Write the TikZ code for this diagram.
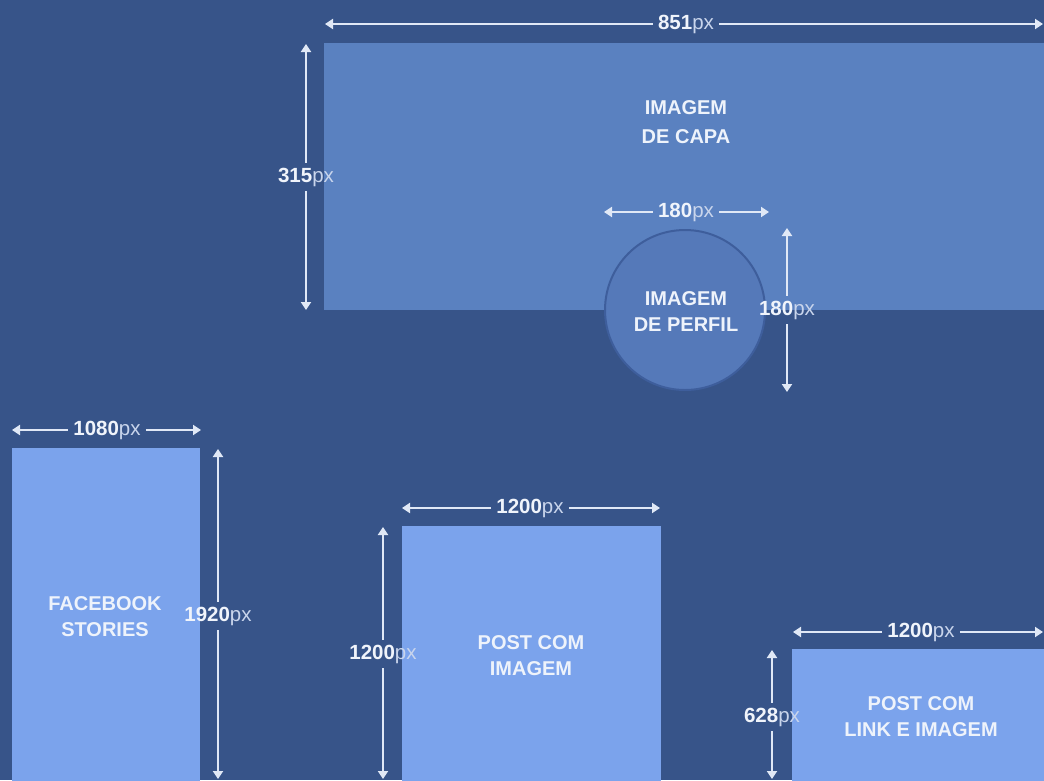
\documentclass[tikz,border=0pt]{standalone}
\usepackage{fontspec}
\setmainfont{Liberation Sans}
\usetikzlibrary{arrows.meta}
\definecolor{bg}{HTML}{375489}
\definecolor{cover}{HTML}{5A81C0}
\definecolor{prof}{HTML}{5579B9}
\definecolor{profline}{HTML}{3E5E9C}
\definecolor{lightbox}{HTML}{7BA3EC}
\definecolor{dimline}{HTML}{E0E8F6}
\definecolor{numc}{HTML}{F0F4FB}
\definecolor{pxc}{HTML}{C9D5EC}
\definecolor{boxtxt}{HTML}{EEF3FB}
\newcommand{\dimtext}[1]{{\bfseries\color{numc}#1}{\color{pxc}px}}
\begin{document}
\begin{tikzpicture}[x=1pt,y=-1pt,
  areabox/.style={rectangle, draw=none, inner sep=0pt, anchor=north west},
  boxlabel/.style={text=boxtxt, font=\bfseries\fontsize{20}{26}\selectfont, align=center},
  dimlabel/.style={inner sep=5pt, font=\fontsize{20.5}{24}\selectfont},
  dimarrow/.style={draw=dimline, line width=2pt, -{Triangle[width=10pt,length=8pt]}}]
\path[use as bounding box] (0,0) rectangle (1044,780);
\clip (0,0) rectangle (1044,780);
\fill[bg] (0,0) rectangle (1044,780);

% cover
\node[areabox, fill=cover, minimum width=740pt, minimum height=267pt] (cover) at (324,43) {};
\node[boxlabel, font=\bfseries\fontsize{20}{29}\selectfont] (covertxt) at (686,122) {IMAGEM\\DE CAPA};
% profile
\node[circle, fill=prof, draw=profline, line width=2pt, minimum size=160pt, inner sep=0pt] (perfil) at (685,310) {};
\node[boxlabel] (perfiltxt) at (686,312) {IMAGEM\\DE PERFIL};
% stories
\node[areabox, fill=lightbox, minimum width=188pt, minimum height=360pt] (stories) at (12,448) {};
\node[boxlabel] (storiestxt) at (105,617) {FACEBOOK\\STORIES};
% post imagem
\node[areabox, fill=lightbox, minimum width=259pt, minimum height=280pt] (postimg) at (402,526) {};
\node[boxlabel] (postimgtxt) at (531,656) {POST COM\\IMAGEM};
% post link
\node[areabox, fill=lightbox, minimum width=270pt, minimum height=150pt] (postlink) at (792,649) {};
\node[boxlabel] (postlinktxt) at (921,717) {POST COM\\LINK E IMAGEM};

% dimension 851
\coordinate (c851a) at (325,24);
\coordinate (c851b) at (1043,24);
\node[dimlabel] (l851) at (686,24) {\dimtext{851}};
\draw[dimarrow] (l851) -- (c851a);
\draw[dimarrow] (l851) -- (c851b);
% dimension 315
\coordinate (c315a) at (306,44);
\coordinate (c315b) at (306,310);
\node[dimlabel] (l315) at (306,177) {\dimtext{315}};
\draw[dimarrow] (l315) -- (c315a);
\draw[dimarrow] (l315) -- (c315b);
% dimension 180 horizontal
\coordinate (c180ha) at (604,212);
\coordinate (c180hb) at (769,212);
\node[dimlabel] (l180h) at (686,212) {\dimtext{180}};
\draw[dimarrow] (l180h) -- (c180ha);
\draw[dimarrow] (l180h) -- (c180hb);
% dimension 180 vertical
\coordinate (c180va) at (787,228);
\coordinate (c180vb) at (787,392);
\node[dimlabel] (l180v) at (787,310) {\dimtext{180}};
\draw[dimarrow] (l180v) -- (c180va);
\draw[dimarrow] (l180v) -- (c180vb);
% dimension 1080
\coordinate (c1080a) at (12,430);
\coordinate (c1080b) at (201,430);
\node[dimlabel] (l1080) at (107,430) {\dimtext{1080}};
\draw[dimarrow] (l1080) -- (c1080a);
\draw[dimarrow] (l1080) -- (c1080b);
% dimension 1920
\coordinate (c1920a) at (218,449);
\coordinate (c1920b) at (218,779);
\node[dimlabel] (l1920) at (218,616) {\dimtext{1920}};
\draw[dimarrow] (l1920) -- (c1920a);
\draw[dimarrow] (l1920) -- (c1920b);
% dimension 1200 (post imagem, horizontal)
\coordinate (c1200ha) at (402,508);
\coordinate (c1200hb) at (660,508);
\node[dimlabel] (l1200h) at (530,508) {\dimtext{1200}};
\draw[dimarrow] (l1200h) -- (c1200ha);
\draw[dimarrow] (l1200h) -- (c1200hb);
% dimension 1200 (post imagem, vertical)
\coordinate (c1200va) at (383,527);
\coordinate (c1200vb) at (383,779);
\node[dimlabel] (l1200v) at (383,654) {\dimtext{1200}};
\draw[dimarrow] (l1200v) -- (c1200va);
\draw[dimarrow] (l1200v) -- (c1200vb);
% dimension 1200 (post link)
\coordinate (c1200la) at (793,632);
\coordinate (c1200lb) at (1043,632);
\node[dimlabel] (l1200l) at (921,632) {\dimtext{1200}};
\draw[dimarrow] (l1200l) -- (c1200la);
\draw[dimarrow] (l1200l) -- (c1200lb);
% dimension 628
\coordinate (c628a) at (772,650);
\coordinate (c628b) at (772,779);
\node[dimlabel] (l628) at (772,717) {\dimtext{628}};
\draw[dimarrow] (l628) -- (c628a);
\draw[dimarrow] (l628) -- (c628b);
\end{tikzpicture}
\end{document}
